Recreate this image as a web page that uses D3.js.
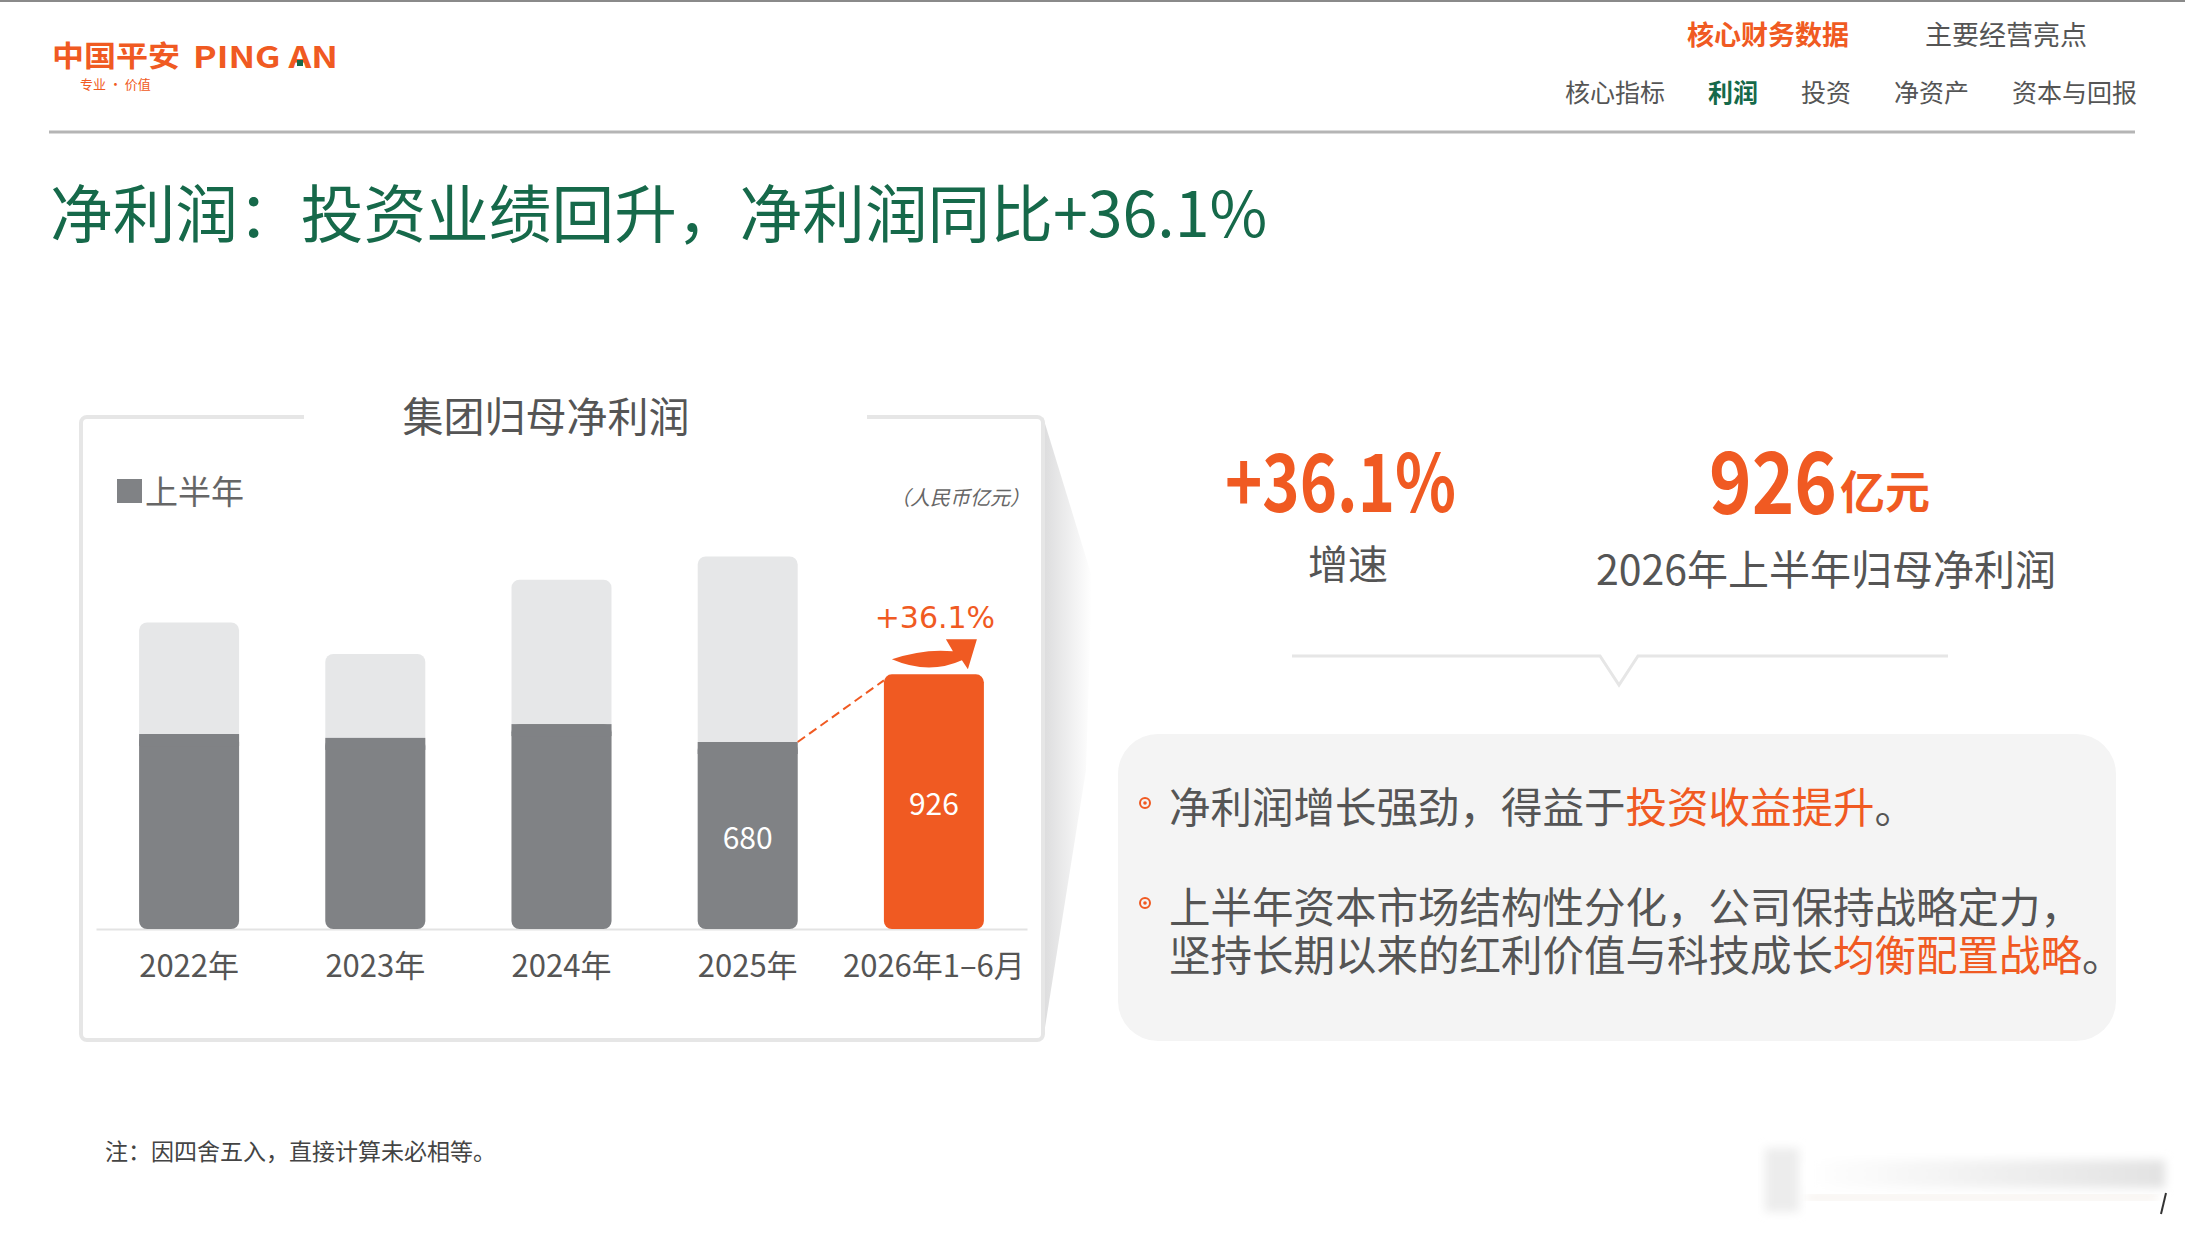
<!DOCTYPE html>
<html>
<head>
<meta charset="utf-8">
<script src="https://cdn.jsdelivr.net/npm/d3@7"></script>
<style>
html, body { margin: 0; padding: 0; background: #fff; }
svg { display: block; }
text { font-family: "Noto Sans CJK SC", "Noto Sans", sans-serif; }
</style>
</head>
<body>
<svg id="page"></svg>
<script>
// chart data (亿元)
var categories = ["2022年", "2023年", "2024年", "2025年", "2026年1–6月"];
var halfYear = [709, 695, 745, 680, 926];
var fullYear = [1115, 1000, 1270, 1355, null];
var labelledValues = [null, null, null, 680, 926];
var growthLabel = "+36.1%";

// page texts
var navTop = ["核心财务数据", "主要经营亮点"];
var navSub = ["核心指标", "利润", "投资", "净资产", "资本与回报"];
var pageTitle = "净利润：投资业绩回升，净利润同比+36.1%";
var chartTitle = "集团归母净利润";
var legendLabel = "上半年";
var unitLabel = "（人民币亿元）";
var bigGrowth = "+36.1%";
var bigGrowthLabel = "增速";
var bigProfit = "926";
var bigProfitUnit = "亿元";
var bigProfitLabel = "2026年上半年归母净利润";
var bullets = [
    [[["净利润增长强劲，得益于", false], ["投资收益提升", true], ["。", false]]],
    [[["上半年资本市场结构性分化，公司保持战略定力，", false]],
     [["坚持长期以来的红利价值与科技成长", false], ["均衡配置战略", true], ["。", false]]]
];
var footNote = "注：因四舍五入，直接计算未必相等。";

var W = 2185, H = 1236;
var orange = "#f05a22", green = "#16694a", grayText = "#555555";
var lightBar = "#e6e7e8", darkBar = "#808285";

var svg = d3.select("#page").attr("width", W).attr("height", H);
var defs = svg.append("defs");

// top thin line + header
svg.append("line").attr("x1", 0).attr("x2", W).attr("y1", 1).attr("y2", 1)
    .attr("stroke", "#8a8a8a").attr("stroke-width", 2);

// logo
svg.append("text").attr("x", 52).attr("y", 54).attr("dominant-baseline", "central")
    .attr("font-size", 29).attr("font-weight", 700).attr("fill", orange)
    .attr("textLength", 128).attr("lengthAdjust", "spacingAndGlyphs").text("中国平安");
svg.append("text").attr("x", 193).attr("y", 55).attr("dominant-baseline", "central")
    .attr("font-size", 30).attr("font-weight", 700).attr("fill", orange)
    .attr("textLength", 145).attr("lengthAdjust", "spacingAndGlyphs").text("PING AN");
svg.append("rect").attr("x", 297).attr("y", 60).attr("width", 6).attr("height", 6).attr("fill", green);
svg.append("text").attr("x", 80).attr("y", 83).attr("dominant-baseline", "central")
    .attr("font-size", 13).attr("fill", orange).text("专业 · 价值");

// navigation
var navTopX = 1687;
navTop.forEach(function(t, i) {
    svg.append("text").attr("x", navTopX).attr("y", 33).attr("dominant-baseline", "central")
        .attr("font-size", 27).attr("font-weight", i === 0 ? 700 : 400)
        .attr("fill", i === 0 ? orange : grayText).text(t);
    navTopX += t.length * 27 + 76;
});
var navSubX = 1565;
navSub.forEach(function(t, i) {
    svg.append("text").attr("x", navSubX).attr("y", 91).attr("dominant-baseline", "central")
        .attr("font-size", 25).attr("font-weight", i === 1 ? 700 : 400)
        .attr("fill", i === 1 ? green : grayText).text(t);
    navSubX += t.length * 25 + 43;
});
svg.append("line").attr("x1", 49).attr("x2", 2135).attr("y1", 132).attr("y2", 132)
    .attr("stroke", "#b5b5b5").attr("stroke-width", 3);

// page title
svg.append("text").attr("x", 50).attr("y", 209).attr("dominant-baseline", "central")
    .attr("font-size", 62.7).attr("fill", green).text(pageTitle);

// ---- chart frame ----
var shade = defs.append("linearGradient").attr("id", "shade")
    .attr("x1", "0").attr("x2", "1").attr("y1", "0").attr("y2", "0");
shade.append("stop").attr("offset", "0").attr("stop-color", "#dcdcdd");
shade.append("stop").attr("offset", "1").attr("stop-color", "#ffffff");
svg.append("path").attr("d", "M1043,417 L1092,577 L1086,770 L1043,1040 Z")
    .attr("fill", "url(#shade)");

svg.append("rect").attr("x", 81).attr("y", 417).attr("width", 962).attr("height", 623)
    .attr("rx", 6).attr("fill", "#fff").attr("stroke", "#e6e6e6").attr("stroke-width", 4);
svg.append("rect").attr("x", 304).attr("y", 410).attr("width", 563).attr("height", 14).attr("fill", "#fff");
svg.append("text").attr("x", 546).attr("y", 414).attr("text-anchor", "middle")
    .attr("dominant-baseline", "central").attr("font-size", 41).attr("fill", grayText).text(chartTitle);

// legend + unit
svg.append("rect").attr("x", 117).attr("y", 479).attr("width", 25).attr("height", 24).attr("fill", darkBar);
svg.append("text").attr("x", 145).attr("y", 490).attr("dominant-baseline", "central")
    .attr("font-size", 33).attr("fill", "#666").text(legendLabel);
svg.append("text").attr("x", 1030).attr("y", 496).attr("text-anchor", "end")
    .attr("dominant-baseline", "central").attr("font-size", 20).attr("font-style", "italic")
    .attr("fill", "#666").text(unitLabel);

// scales
var x = d3.scaleBand().domain(categories).range([96, 1027])
    .paddingInner(0.463).paddingOuter(0.2315);
var y = d3.scaleLinear().domain([0, 1400]).range([929, 544]);
var bw = x.bandwidth();

var g = svg.append("g");

// axis
var axis = g.append("g").attr("transform", "translate(0," + y(0) + ")")
    .call(d3.axisBottom(x).tickSize(0).tickSizeOuter(0));
axis.select(".domain").attr("stroke", "#e3e3e3").attr("stroke-width", 2);
axis.selectAll("text").attr("y", 34).attr("dy", null).attr("dominant-baseline", "central")
    .attr("font-size", 31).attr("fill", grayText)
    .style("font-family", "\"Noto Sans CJK SC\", sans-serif");

// full-year (light) bars
g.selectAll(".full").data(categories.filter(function(c, i) { return fullYear[i] != null; }))
    .enter().append("rect").attr("class", "full")
    .attr("x", function(c) { return x(c); })
    .attr("y", function(c) { return y(fullYear[categories.indexOf(c)]); })
    .attr("width", bw)
    .attr("height", function(c) { return y(0) - y(fullYear[categories.indexOf(c)]); })
    .attr("rx", 8).attr("fill", lightBar);

// half-year bars
var last = categories.length - 1;
g.selectAll(".half").data(categories).enter().append("rect").attr("class", "half")
    .attr("x", function(c) { return x(c); })
    .attr("y", function(c, i) { return y(halfYear[i]); })
    .attr("width", bw)
    .attr("height", function(c, i) { return y(0) - y(halfYear[i]); })
    .attr("rx", 8).attr("fill", function(c, i) { return i === last ? orange : darkBar; });
// square off the tops of stacked dark bars
g.selectAll(".halfTop").data(categories.slice(0, last)).enter().append("rect")
    .attr("x", function(c) { return x(c); })
    .attr("y", function(c, i) { return y(halfYear[i]); })
    .attr("width", bw).attr("height", 12).attr("fill", darkBar);

// value labels
g.selectAll(".val").data(categories).enter()
    .filter(function(c, i) { return labelledValues[i] != null; })
    .append("text")
    .attr("x", function(c) { return x(c) + bw / 2; })
    .attr("y", function(c) { var i = categories.indexOf(c); return (y(halfYear[i]) + y(0)) / 2; })
    .attr("text-anchor", "middle").attr("dominant-baseline", "central")
    .attr("font-size", 30).attr("fill", "#fff")
    .text(function(c) { return labelledValues[categories.indexOf(c)]; });

// dashed link 2025 -> 2026
var prev = last - 1;
g.append("line")
    .attr("x1", x(categories[prev]) + bw).attr("y1", y(halfYear[prev]))
    .attr("x2", x(categories[last])).attr("y2", y(halfYear[last]) + 6)
    .attr("stroke", orange).attr("stroke-width", 2).attr("stroke-dasharray", "9,5");

// growth arrow + label
var cx = x(categories[last]) + bw / 2, ty = y(halfYear[last]);
g.append("path")
    .attr("d", "M" + (cx - 42) + "," + (ty - 15) +
        " Q" + (cx - 10) + "," + (ty - 26) + " " + (cx + 19) + "," + (ty - 23) +
        " L" + (cx + 12) + "," + (ty - 35) +
        " L" + (cx + 43) + "," + (ty - 35) +
        " L" + (cx + 34) + "," + (ty - 5) +
        " L" + (cx + 28) + "," + (ty - 14) +
        " Q" + (cx - 5) + "," + (ty + 1) + " " + (cx - 42) + "," + (ty - 15) + " Z")
    .attr("fill", orange);
g.append("text").attr("x", cx + 1).attr("y", ty - 57).attr("text-anchor", "middle")
    .attr("dominant-baseline", "central").attr("font-size", 30).attr("fill", orange)
    .style("font-family", "\"DejaVu Sans\", sans-serif").text(growthLabel);

// ---- right panel ----
svg.append("text").attr("x", 1225).attr("y", 477).attr("dominant-baseline", "central")
    .attr("font-size", 80).attr("font-weight", 700).attr("fill", orange)
    .attr("textLength", 231).attr("lengthAdjust", "spacingAndGlyphs").text(bigGrowth);
svg.append("text").attr("x", 1348).attr("y", 562).attr("text-anchor", "middle")
    .attr("dominant-baseline", "central").attr("font-size", 40).attr("fill", grayText).text(bigGrowthLabel);

svg.append("text").attr("x", 1709).attr("y", 476).attr("dominant-baseline", "central")
    .attr("font-size", 86).attr("font-weight", 700).attr("fill", orange)
    .attr("textLength", 128).attr("lengthAdjust", "spacingAndGlyphs").text(bigProfit);
svg.append("text").attr("x", 1840).attr("y", 489).attr("dominant-baseline", "central")
    .attr("font-size", 45).attr("font-weight", 700).attr("fill", orange).text(bigProfitUnit);
svg.append("text").attr("x", 1826).attr("y", 567).attr("text-anchor", "middle")
    .attr("dominant-baseline", "central").attr("font-size", 41).attr("fill", grayText).text(bigProfitLabel);

svg.append("path").attr("d", "M1292,656 L1600,656 L1619,685 L1638,656 L1948,656")
    .attr("fill", "none").attr("stroke", "#e6e6e6").attr("stroke-width", 3);

// text box
svg.append("rect").attr("x", 1118).attr("y", 734).attr("width", 998).attr("height", 307)
    .attr("rx", 40).attr("fill", "#f4f4f4");
var firstLineY = [805, 905];
var lineGap = 48;
bullets.forEach(function(lines, bi) {
    var by = firstLineY[bi] - 2;
    svg.append("circle").attr("cx", 1145).attr("cy", by).attr("r", 5)
        .attr("fill", "none").attr("stroke", orange).attr("stroke-width", 2);
    svg.append("circle").attr("cx", 1145).attr("cy", by).attr("r", 1.8).attr("fill", orange);
    // one text per bullet, wrapped lines as tspans
    var t = svg.append("text").attr("y", firstLineY[bi])
        .attr("dominant-baseline", "central").attr("font-size", 41.5).attr("fill", grayText);
    lines.forEach(function(segs, li) {
        segs.forEach(function(s, si) {
            var sp = t.append("tspan").attr("fill", s[1] ? orange : grayText).text(s[0]);
            if (si === 0) {
                sp.attr("x", 1169).attr("y", firstLineY[bi] + li * lineGap);
            }
        });
    });
});

// footnote
svg.append("text").attr("x", 105).attr("y", 1150).attr("dominant-baseline", "central")
    .attr("font-size", 23).attr("fill", "#444").text(footNote);

// faint scan artefact bottom right
var blur = defs.append("filter").attr("id", "blur").attr("x", "-20%").attr("y", "-50%")
    .attr("width", "140%").attr("height", "200%");
blur.append("feGaussianBlur").attr("stdDeviation", 5);
var fade = defs.append("linearGradient").attr("id", "fade")
    .attr("x1", "0").attr("x2", "1").attr("y1", "0").attr("y2", "0");
fade.append("stop").attr("offset", "0").attr("stop-color", "#ffffff");
fade.append("stop").attr("offset", "1").attr("stop-color", "#e2e2e2");
svg.append("rect").attr("x", 1765).attr("y", 1148).attr("width", 34).attr("height", 64)
    .attr("fill", "#ececec").attr("filter", "url(#blur)");
svg.append("rect").attr("x", 1807).attr("y", 1160).attr("width", 358).attr("height", 28)
    .attr("fill", "url(#fade)").attr("filter", "url(#blur)");
svg.append("rect").attr("x", 1807).attr("y", 1196).attr("width", 350).attr("height", 3)
    .attr("fill", "#eadfd4").attr("filter", "url(#blur)");
svg.append("line").attr("x1", 2166).attr("y1", 1193).attr("x2", 2161).attr("y2", 1214)
    .attr("stroke", "#333").attr("stroke-width", 2);
</script>
</body>
</html>
